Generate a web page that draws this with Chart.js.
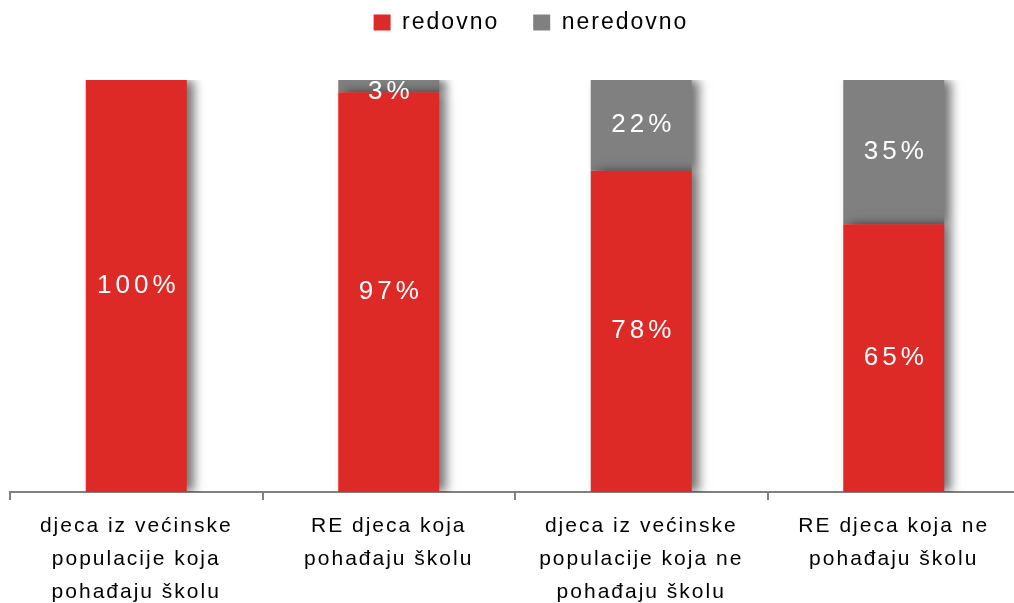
<!DOCTYPE html>
<html>
<head>
<meta charset="utf-8">
<script src="https://cdn.jsdelivr.net/npm/chart.js@4"></script>
<style>
  html, body { margin: 0; padding: 0; overflow: hidden; background: #fff; }
  #wrap { width: 1024px; height: 603px; }
</style>
</head>
<body>
<div id="wrap"><canvas id="attendChart" width="1024" height="603"></canvas></div>
<script>
const categories = [
  ['djeca iz većinske', 'populacije koja', 'pohađaju školu'],
  ['RE djeca koja', 'pohađaju školu'],
  ['djeca iz većinske', 'populacije koja ne', 'pohađaju školu'],
  ['RE djeca koja ne', 'pohađaju školu']
];
const redovno = [100, 97, 78, 65];
const neredovno = [0, 3, 22, 35];

const RED = '#de2a27';
const GREY = '#808080';
const FONT = '"Liberation Sans", Arial, sans-serif';

// letter spacing for every text the chart draws
const spacing = {
  id: 'spacing',
  beforeDraw(chart) { chart.ctx.letterSpacing = '2px'; }
};

// extra room under the legend
const legendGap = {
  id: 'legendGap',
  afterInit(chart) {
    const fit = chart.legend.fit;
    chart.legend.fit = function () {
      fit.call(this);
      this.height += 36;
    };
  }
};

// soft shadow to the right of each bar
const barShadow = {
  id: 'barShadow',
  beforeDatasetDraw(chart) {
    const ctx = chart.ctx;
    ctx.save();
    ctx.shadowColor = 'rgba(0,0,0,0.55)';
    ctx.shadowBlur = 10;
    ctx.shadowOffsetX = 7;
    ctx.shadowOffsetY = 0;
  },
  afterDatasetDraw(chart) {
    chart.ctx.restore();
  }
};

// white percentage labels inside the segments
const valueLabels = {
  id: 'valueLabels',
  afterDatasetsDraw(chart) {
    const ctx = chart.ctx;
    ctx.save();
    ctx.letterSpacing = '4px';
    ctx.font = '26px ' + FONT;
    ctx.fillStyle = '#fff';
    ctx.textAlign = 'center';
    ctx.textBaseline = 'middle';
    chart.data.datasets.forEach((ds, i) => {
      chart.getDatasetMeta(i).data.forEach((bar, j) => {
        const v = ds.data[j];
        if (!v) return;
        const { x, y, base } = bar.getProps(['x', 'y', 'base'], true);
        const cy = Math.max((y + base) / 2, y + 12);
        ctx.fillText(v + '%', x + 2, cy);
      });
    });
    ctx.restore();
  }
};

new Chart(document.getElementById('attendChart'), {
  type: 'bar',
  data: {
    labels: categories,
    datasets: [
      { label: 'redovno', data: redovno, backgroundColor: RED },
      { label: 'neredovno', data: neredovno, backgroundColor: GREY }
    ]
  },
  options: {
    responsive: false,
    animation: false,
    devicePixelRatio: 1,
    layout: { padding: { left: 10, right: 4, top: -23, bottom: 0 } },
    datasets: {
      bar: { categoryPercentage: 1, barPercentage: 0.4 }
    },
    plugins: {
      legend: {
        position: 'top',
        labels: {
          boxWidth: 17,
          boxHeight: 16,
          padding: 34,
          color: '#000',
          font: { family: FONT, size: 23 }
        }
      },
      tooltip: { enabled: false }
    },
    scales: {
      x: {
        stacked: true,
        grid: {
          display: true,
          drawOnChartArea: false,
          drawTicks: true,
          tickLength: 8,
          color: GREY,
          lineWidth: 2
        },
        border: { display: true, color: GREY, width: 2 },
        ticks: {
          color: '#000',
          padding: 10,
          maxRotation: 0,
          autoSkip: false,
          font: { family: FONT, size: 21, lineHeight: 1.57 }
        },
        afterFit(scale) { scale.height = 111; }
      },
      y: {
        stacked: true,
        display: false,
        min: 0,
        max: 100
      }
    }
  },
  plugins: [spacing, legendGap, barShadow, valueLabels]
});
</script>
</body>
</html>
